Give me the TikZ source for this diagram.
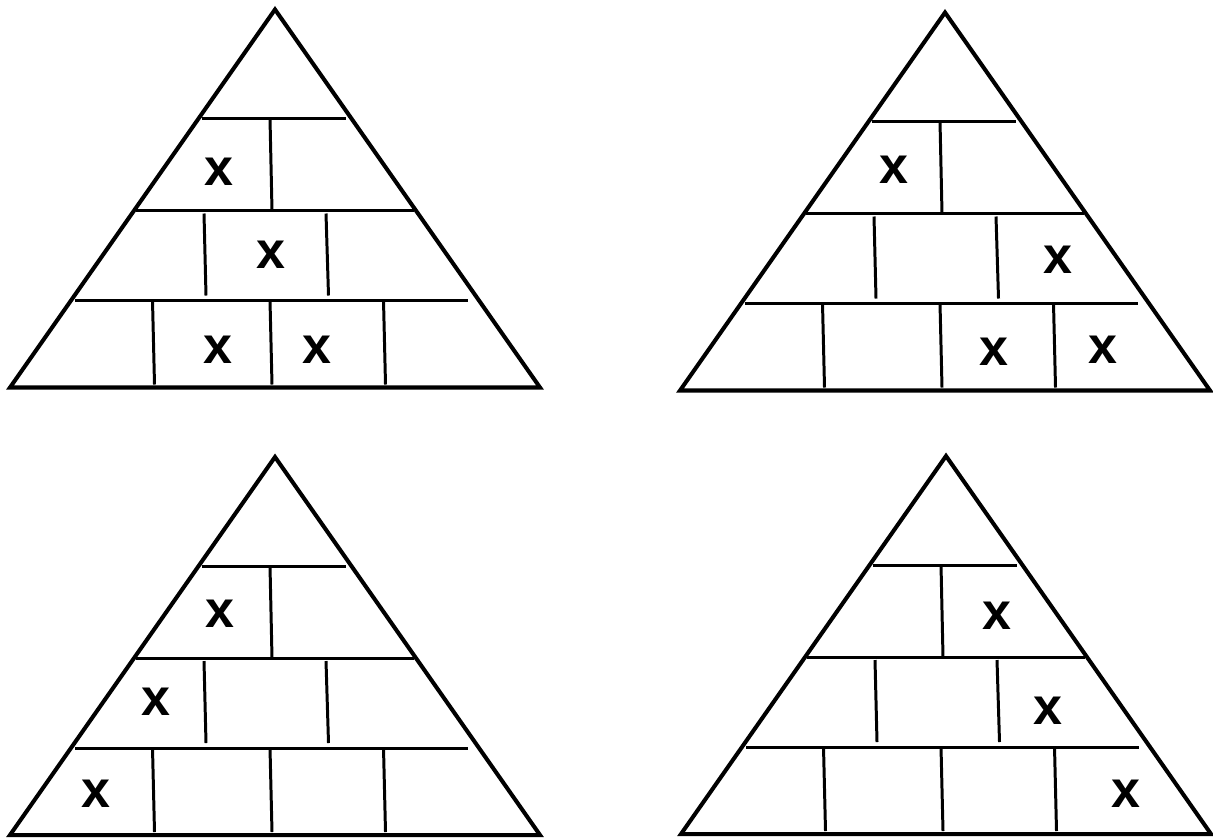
\documentclass[tikz,border=0pt]{standalone}
\usepackage{fontspec}
\setmainfont{Liberation Sans}
\usepackage{xcolor}
\definecolor{Ink}{HTML}{000000}
\tikzset{
  frame/.style={draw=Ink,line width=2.3pt},
  brick/.style={draw=Ink,line width=1.7pt},
  xtxt/.style={inner sep=0pt,text=Ink,font=\fontsize{29.6}{30}\selectfont\bfseries}
}
\begin{document}
\begin{tikzpicture}[x=0.2mm,y=-0.2mm]
  \useasboundingbox (0,0) rectangle (1213,839);
  \foreach \ax/\ay in {275/9.5, 945/12.5, 275/457, 946/456} {
    \begin{scope}[shift={(\ax,\ay)}]
      \draw[frame] (0,0) -- (265,378) -- (-265,378) -- cycle;
      \draw[brick] (-73,109) -- (71,109);
      \draw[brick] (-139,201) -- (139,201);
      \draw[brick] (-200,291) -- (193,291);
      \draw[brick] (-5,109) -- (-3,201);
      \draw[brick] (-71,204) -- (-69,286);
      \draw[brick] (51,204) -- (53.5,286);
      \draw[brick] (-122.5,291) -- (-120.5,375);
      \draw[brick] (-5,291) -- (-3,375);
      \draw[brick] (108.5,291) -- (110.5,375);
    \end{scope}
  }
  % top left
  \node[xtxt] (tl1) at (218.6,171.7) {x};
  \node[xtxt] (tl2) at (271.4,255) {x};
  \node[xtxt] (tl3) at (217.9,350) {x};
  \node[xtxt] (tl4) at (317.1,350) {x};
  % top right
  \node[xtxt] (tr1) at (893.5,169.3) {x};
  \node[xtxt] (tr2) at (1057.9,260) {x};
  \node[xtxt] (tr3) at (994.4,351.7) {x};
  \node[xtxt] (tr4) at (1103.4,350) {x};
  % bottom left
  \node[xtxt] (bl1) at (220.4,613.3) {x};
  \node[xtxt] (bl2) at (156,701.7) {x};
  \node[xtxt] (bl3) at (95.7,793.3) {x};
  % bottom right
  \node[xtxt] (br1) at (996.9,616) {x};
  \node[xtxt] (br2) at (1048,710.7) {x};
  \node[xtxt] (br3) at (1125.6,794) {x};
\end{tikzpicture}
\end{document}
